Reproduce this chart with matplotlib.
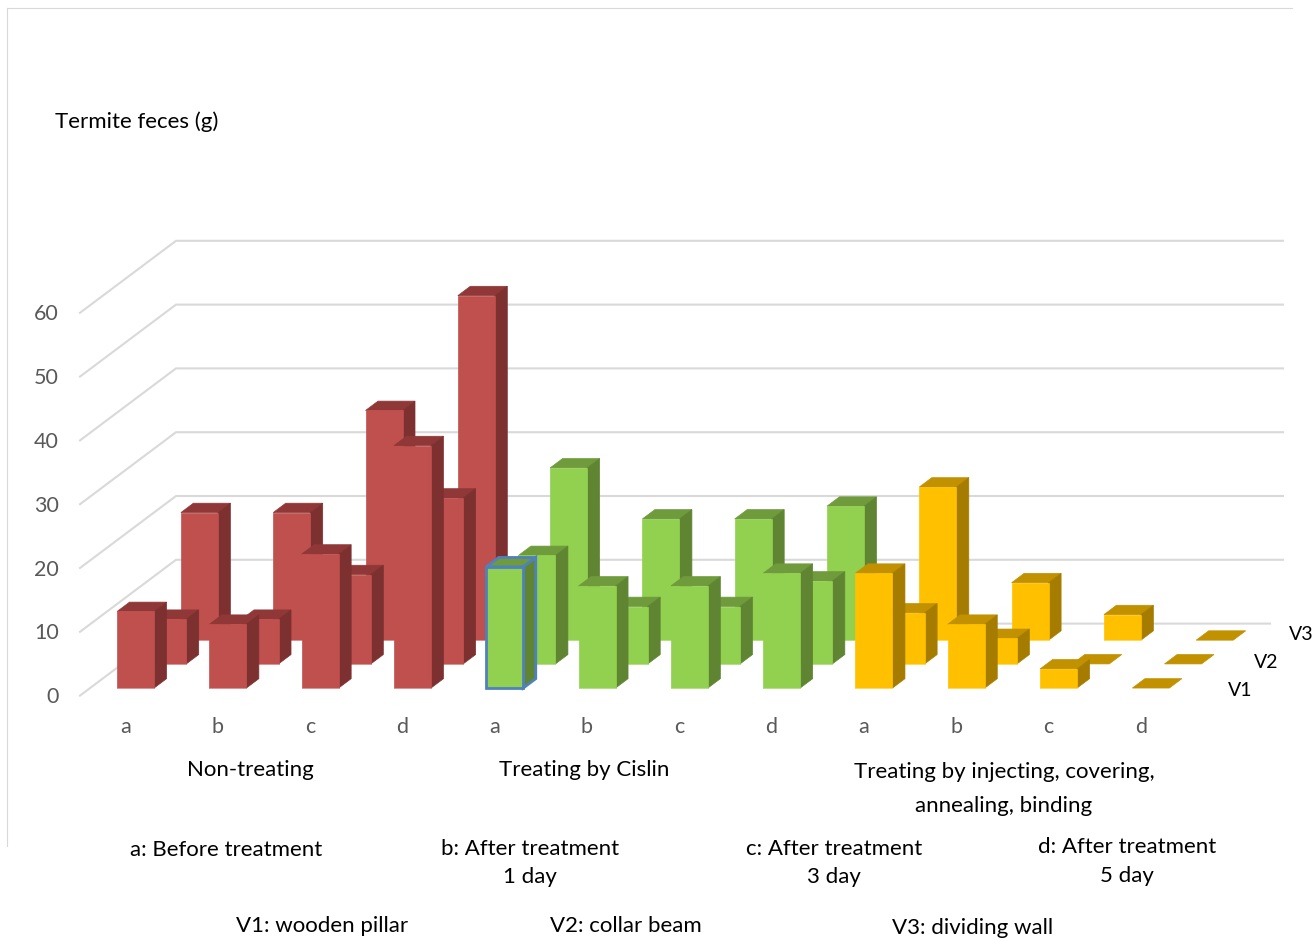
import matplotlib
matplotlib.use('Agg')
import matplotlib.pyplot as plt
from matplotlib.patches import Polygon

plt.rcParams['font.family'] = ['Lato', 'DejaVu Sans']

# Feces weight per timepoint (a, b, c, d), one list per wall location
v1_non = [12, 10, 21, 38]
v2_non = [7, 7, 14, 26]
v3_non = [20, 20, 36, 54]
v1_cislin = [19, 16, 16, 18]
v2_cislin = [17, 9, 9, 13]
v3_cislin = [27, 19, 19, 21]
v1_inject = [18, 10, 3, 0]
v2_inject = [8, 4, 0, 0]
v3_inject = [24, 9, 4, 0]

timepoints = ['a', 'b', 'c', 'd']
y_ticks = [0, 10, 20, 30, 40, 50, 60]

# Colours for each treatment group: front, top, side, pale base line
red = ('#C0504D', '#903838', '#7D3030', '#D99694')
green = ('#92D050', '#6F9B3C', '#5F8532', '#B5E08A')
yellow = ('#FFC000', '#C19100', '#A67C00', '#FFD966')

# Oblique projection of the chart box onto the canvas
FLOOR_X = 80
FLOOR_Y = 695.6
DEPTH_X = 96
DEPTH_Y = 72
UNIT = 6.38
CAT_START = 27.0
CAT_STEP = 92.3
BAR_W = 37
BAR_D = 0.13
ROW_DEPTH = [0.105, 0.44, 0.77]


def project(x, depth, value):
    return (FLOOR_X + x + DEPTH_X * depth, FLOOR_Y - DEPTH_Y * depth - UNIT * value)


def draw_bar(ax, i, row, value, colors, edge=None):
    x0 = CAT_START + i * CAT_STEP
    x1 = x0 + BAR_W
    d0 = ROW_DEPTH[row]
    d1 = d0 + BAR_D
    z = 10 + (2 - row)
    lw = 2 if edge else 0.5
    top = [project(x0, d0, value), project(x1, d0, value), project(x1, d1, value), project(x0, d1, value)]
    ax.add_patch(Polygon(top, fc=colors[1], ec=edge or colors[1], lw=lw, zorder=z))
    if value > 0:
        side = [project(x1, d0, 0), project(x1, d1, 0), project(x1, d1, value), project(x1, d0, value)]
        front = [project(x0, d0, 0), project(x1, d0, 0), project(x1, d0, value), project(x0, d0, value)]
        ax.add_patch(Polygon(side, fc=colors[2], ec=edge or colors[2], lw=lw, zorder=z))
        ax.add_patch(Polygon(front, fc=colors[0], ec=edge or colors[0], lw=lw, zorder=z))
        if not edge:
            base = [project(x0, d0, 0), project(x1, d0, 0)]
            ax.plot([base[0][0], base[1][0]], [base[0][1], base[1][1]], color=colors[3], lw=0.7, zorder=z)


fig = plt.figure(figsize=(13.16, 9.39), dpi=100)
ax = fig.add_axes([0, 0, 1, 1])
ax.set_xlim(0, 1316)
ax.set_ylim(939, 0)
ax.axis('off')

# Outer chart border, only top and left are visible
ax.plot([7, 1292], [8, 8], color='#D9D9D9', lw=0.8)
ax.plot([7, 7], [8, 846], color='#D9D9D9', lw=0.8)

# Gridlines on the side and back walls
for v in y_ticks:
    x_front, y_front = project(0, 0, v)
    x_back, y_back = project(0, 1, v)
    x_end = 1270 if v == 0 else 1283
    ax.plot([x_front, x_back, x_end], [y_front, y_back, y_back], color='#D9D9D9', lw=1.5, zorder=1,
            solid_joinstyle='miter')
    ax.text(59, y_front + 1.5, str(v), ha='right', va='center', fontsize=15.5, color='#595959')

groups = [
    (v1_non, v2_non, v3_non, red),
    (v1_cislin, v2_cislin, v3_cislin, green),
    (v1_inject, v2_inject, v3_inject, yellow),
]

i = 0
for v1, v2, v3, colors in groups:
    for k in range(len(timepoints)):
        # the first Cislin bar was left selected, so it keeps a blue outline
        edge = '#4F81BD' if colors is green and k == 0 else None
        draw_bar(ax, i, 0, v1[k], colors, edge)
        draw_bar(ax, i, 1, v2[k], colors)
        draw_bar(ax, i, 2, v3[k], colors)
        x_label = project(CAT_START + i * CAT_STEP + BAR_W / 2, 0, 0)[0]
        ax.text(x_label, 727, timepoints[k], ha='center', va='center', fontsize=15.5, color='#595959')
        i += 1

# Series names at the end of each row
for name, x, y in [('V1', 1240, 691), ('V2', 1266, 662), ('V3', 1301, 634)]:
    ax.text(x, y, name, ha='center', va='center', fontsize=14, color='black')

notes = [
    ('Termite feces (g)', 137, 122),
    ('Non-treating', 250, 770),
    ('Treating by Cislin', 584, 770),
    ('Treating by injecting, covering,', 1004, 772),
    ('annealing, binding', 1004, 806),
    ('a: Before treatment', 226, 850),
    ('b: After treatment', 530, 849),
    ('1 day', 530, 877),
    ('c: After treatment', 834, 849),
    ('3 day', 834, 877),
    ('d: After treatment', 1127, 847),
    ('5 day', 1127, 876),
    ('V1: wooden pillar', 322, 926),
    ('V2: collar beam', 626, 926),
    ('V3: dividing wall', 973, 928),
]
for text, x, y in notes:
    ax.text(x, y, text, ha='center', va='center', fontsize=16, color='black')

fig.savefig('out.png', dpi=100)
